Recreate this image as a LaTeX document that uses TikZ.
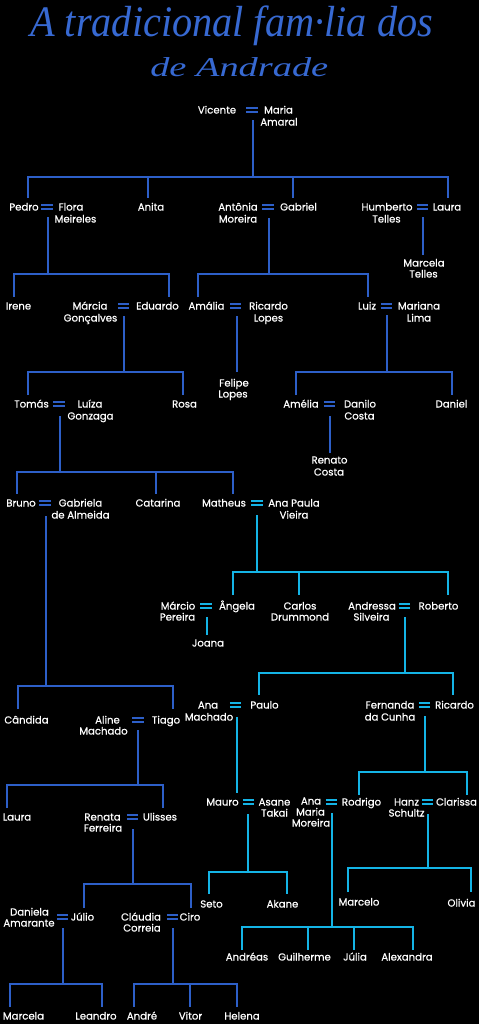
\documentclass[tikz,border=0pt]{standalone}
\usepackage{fontspec}
\setmainfont{Poppins}[FakeBold=0.6]
\newfontfamily\titlefont{Liberation Serif}
\definecolor{bl}{RGB}{45,95,200}
\definecolor{cy}{RGB}{20,180,230}
\definecolor{tt}{RGB}{55,105,210}
\newcommand\PName[4]{\node[nm] (#1) at (#2,#3+3.5) {#4};}
\newcommand\EqSign[4]{\node[eqn] (#1) at (#2,#3) {};
  \draw[#4,line width=1.1pt,line cap=butt] (#1.north west)--(#1.north east) (#1.south west)--(#1.south east);}
\begin{document}
\begin{tikzpicture}[x=0.75pt,y=-0.75pt,
 nm/.style={text=white,font=\fontsize{7.6}{9}\selectfont,inner sep=0,anchor=base},
 bline/.style={draw=bl,line width=1.4pt},
 cline/.style={draw=cy,line width=1.4pt},
 eqn/.style={inner sep=0,minimum width=8.2pt,minimum height=2.7pt}]
\fill[black] (0,0) rectangle (479,1024);
\useasboundingbox (0,0) rectangle (479,1024);
% title
\node[inner sep=0,anchor=base west,text=tt] (t1) at (30,37) {\resizebox{302pt}{23pt}{\titlefont\itshape A tradicional fam·lia dos}};
\node[inner sep=0,anchor=base west,text=tt] (t2) at (150,76) {\resizebox{133.5pt}{14.2pt}{\titlefont\itshape de Andrade}};
% generation 1
\PName{vic}{217}{110}{Vicente}
\EqSign{e1}{252}{110}{bl}
\PName{mar}{278.5}{110}{Maria}
\PName{marb}{279}{122}{Amaral}
\draw[bline] (253,120) -- (253,177);
\draw[bline] (28,198) -- (28,177) -- (448,177) -- (448,198);
\draw[bline] (148,177) -- (148,198);
\draw[bline] (293,177) -- (293,198);
% generation 2
\PName{ped}{24}{207}{Pedro}
\EqSign{e2}{47}{207}{bl}
\PName{flo}{71}{207}{Flora}
\PName{flob}{75.5}{219}{Meireles}
\draw[bline] (48,217) -- (48,274);
\draw[bline] (14,297) -- (14,274) -- (169,274) -- (169,297);
\PName{ani}{151}{207}{Anita}
\PName{ant}{238}{207}{Antônia}
\PName{antb}{238}{219}{Moreira}
\EqSign{e3}{268}{207}{bl}
\PName{gab}{298.5}{207}{Gabriel}
\draw[bline] (269,218) -- (269,274);
\draw[bline] (198,297) -- (198,274) -- (368,274) -- (368,297);
\PName{hum}{387}{207}{Humberto}
\PName{humb}{386.5}{219}{Telles}
\EqSign{e4}{422.5}{207}{bl}
\PName{lau}{447}{207}{Laura}
\draw[bline] (423,217) -- (423,255);
\PName{mct}{424}{263}{Marcela}
\PName{mctb}{423.5}{274}{Telles}
% generation 3
\PName{ire}{18.5}{306}{Irene}
\PName{mrc}{90}{306}{Márcia}
\PName{mrcb}{90.5}{318}{Gonçalves}
\EqSign{e5}{123.5}{306}{bl}
\PName{edu}{157.5}{306}{Eduardo}
\draw[bline] (124,316) -- (124,372);
\draw[bline] (28,395) -- (28,372) -- (183,372) -- (183,395);
\PName{ama}{206.5}{306}{Amália}
\EqSign{e6}{235.5}{306}{bl}
\PName{ric}{268.5}{306}{Ricardo}
\PName{ricb}{268.5}{318}{Lopes}
\draw[bline] (237,316) -- (237,372);
\PName{fel}{234}{383}{Felipe}
\PName{felb}{233}{394}{Lopes}
\PName{lui}{367}{306}{Luiz}
\EqSign{e7}{386.5}{306}{bl}
\PName{mrn}{419}{306}{Mariana}
\PName{mrnb}{419}{318}{Lima}
\draw[bline] (387,315) -- (387,372);
\draw[bline] (296,395) -- (296,372) -- (452,372) -- (452,395);
% generation 4
\PName{tom}{31.5}{404}{Tomás}
\EqSign{e8}{59}{404}{bl}
\PName{luz}{90}{404}{Luíza}
\PName{luzb}{90.5}{416}{Gonzaga}
\draw[bline] (60,416) -- (60,472);
\draw[bline] (17,494) -- (17,472) -- (233,472) -- (233,494);
\draw[bline] (156,472) -- (156,494);
\PName{ros}{184.5}{404}{Rosa}
\PName{ame}{301}{404}{Amélia}
\EqSign{e9}{329.5}{404}{bl}
\PName{dan}{360}{404}{Danilo}
\PName{danb}{359.5}{416}{Costa}
\draw[bline] (330,416) -- (330,453);
\PName{ren}{329.5}{460}{Renato}
\PName{renb}{329}{472}{Costa}
\PName{dnl}{451.5}{404}{Daniel}
% generation 5
\PName{bru}{21}{503}{Bruno}
\EqSign{e10}{45}{503}{bl}
\PName{gbr}{80.5}{503}{Gabriela}
\PName{gbrb}{80.5}{515}{de Almeida}
\draw[bline] (46,516) -- (46,686);
\draw[bline] (18,709) -- (18,686) -- (173,686) -- (173,709);
\PName{cat}{158}{503}{Catarina}
\PName{mat}{224}{503}{Matheus}
\EqSign{e11}{257}{503}{cy}
\PName{anp}{294}{503}{Ana Paula}
\PName{anpb}{294}{515}{Vieira}
\draw[cline] (257,515) -- (257,572);
\draw[cline] (233,595) -- (233,572) -- (448,572) -- (448,595);
\draw[cline] (299,572) -- (299,595);
% generation 6
\PName{mco}{178}{606}{Márcio}
\PName{mcob}{177.5}{617}{Pereira}
\EqSign{e12}{206}{606}{cy}
\PName{ang}{237}{606}{Ângela}
\draw[cline] (207,617) -- (207,635);
\PName{joa}{208}{643}{Joana}
\PName{car}{300}{606}{Carlos}
\PName{carb}{300}{617}{Drummond}
\PName{and}{372}{606}{Andressa}
\PName{andb}{371.5}{617}{Silveira}
\EqSign{e13}{404.5}{606}{cy}
\PName{rob}{438.5}{606}{Roberto}
\draw[cline] (405,617) -- (405,673);
\draw[cline] (259,695) -- (259,673) -- (453,673) -- (453,695);
% generation 7
\PName{ana}{208}{705}{Ana}
\PName{anab}{209}{717}{Machado}
\EqSign{e14}{235.5}{705}{cy}
\PName{pau}{264.5}{705}{Paulo}
\draw[cline] (237,717) -- (237,793);
\PName{fer}{390}{705}{Fernanda}
\PName{ferb}{390}{717}{da Cunha}
\EqSign{e15}{424.5}{705}{cy}
\PName{rcd}{454.5}{705}{Ricardo}
\draw[cline] (425,716) -- (425,772);
\draw[cline] (359,795) -- (359,772) -- (467,772) -- (467,795);
\PName{can}{26.5}{720}{Cândida}
\PName{ali}{107.5}{720}{Aline}
\PName{alib}{103.5}{731}{Machado}
\EqSign{e16}{138}{720}{bl}
\PName{tia}{166}{720}{Tiago}
\draw[bline] (138,730) -- (138,785);
\draw[bline] (7,808) -- (7,785) -- (163,785) -- (163,808);
% generation 8
\PName{mau}{222.5}{802}{Mauro}
\EqSign{e17}{248.5}{802}{cy}
\PName{asa}{274.5}{802}{Asane}
\PName{asab}{274.5}{813}{Takai}
\draw[cline] (248,814) -- (248,872);
\draw[cline] (209,894) -- (209,872) -- (287,872) -- (287,894);
\PName{amm}{311}{801}{Ana}
\PName{ammb}{310.5}{812}{Maria}
\PName{ammc}{311}{823}{Moreira}
\EqSign{e18}{331.5}{802}{cy}
\PName{rod}{361.5}{802}{Rodrigo}
\draw[cline] (332,813) -- (332,927);
\draw[cline] (242,950) -- (242,927) -- (413,927) -- (413,950);
\draw[cline] (308,927) -- (308,950);
\draw[cline] (354,927) -- (354,950);
\PName{han}{406.5}{802}{Hanz}
\PName{hanb}{406.5}{813}{Schultz}
\EqSign{e19}{427.5}{802}{cy}
\PName{cla}{456.5}{802}{Clarissa}
\draw[cline] (428,814) -- (428,868);
\draw[cline] (348,892) -- (348,868) -- (471,868) -- (471,892);
\PName{lar}{17}{817}{Laura}
\PName{rnt}{102.5}{817}{Renata}
\PName{rntb}{103}{828}{Ferreira}
\EqSign{e20}{132.5}{817}{bl}
\PName{uli}{160}{817}{Ulisses}
\draw[bline] (133,829) -- (133,884);
\draw[bline] (84,908) -- (84,884) -- (191,884) -- (191,908);
\PName{set}{211.5}{904}{Seto}
\PName{aka}{282.5}{904}{Akane}
\PName{mcl}{359}{902}{Marcelo}
\PName{oli}{461.5}{903}{Olivia}
\PName{adr}{247}{957}{Andréas}
\PName{gui}{304.5}{957}{Guilherme}
\PName{jua}{355}{957}{Júlia}
\PName{ale}{407}{957}{Alexandra}
% generation 9
\PName{dla}{29.5}{912}{Daniela}
\PName{dlab}{29}{923}{Amarante}
\EqSign{e21}{62.5}{917}{bl}
\PName{jul}{82.5}{917}{Júlio}
\draw[bline] (63,928) -- (63,984);
\draw[bline] (10,1007) -- (10,984) -- (102,984) -- (102,1007);
\PName{cld}{141}{917}{Cláudia}
\PName{cldb}{142}{928}{Correia}
\EqSign{e22}{172.5}{917}{bl}
\PName{cir}{190}{917}{Ciro}
\draw[bline] (173,928) -- (173,984);
\draw[bline] (134,1007) -- (134,984) -- (237,984) -- (237,1007);
\draw[bline] (190,984) -- (190,1007);
% generation 10
\PName{mla}{23.5}{1016}{Marcela}
\PName{lea}{96}{1016}{Leandro}
\PName{anr}{142}{1016}{André}
\PName{vit}{190.5}{1016}{Vitor}
\PName{hel}{242}{1016}{Helena}
\end{tikzpicture}
\end{document}
